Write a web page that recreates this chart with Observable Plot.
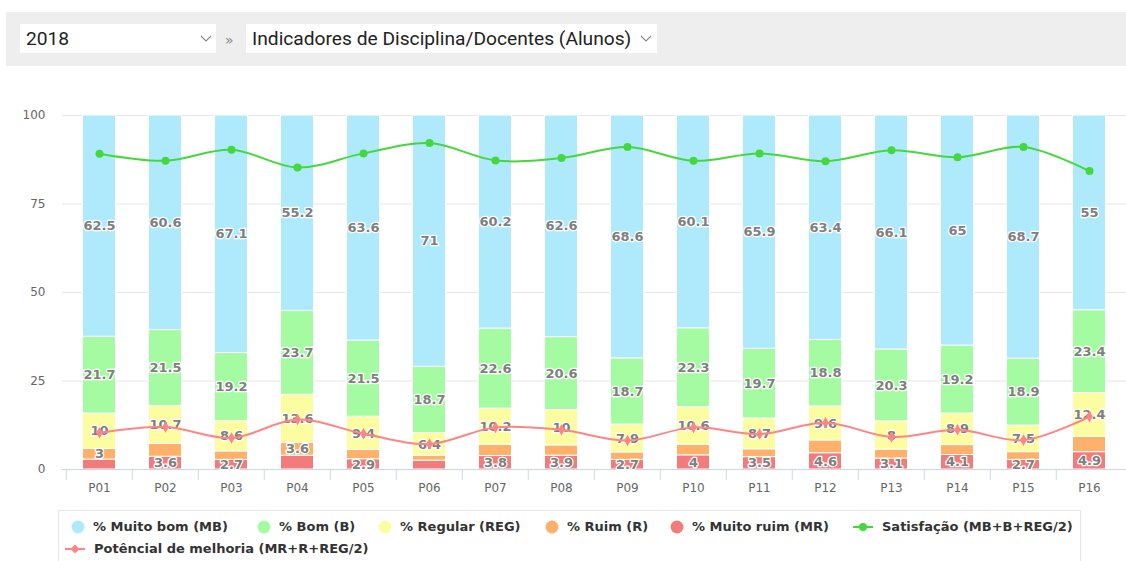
<!DOCTYPE html>
<html>
<head>
<meta charset="utf-8">
<script src="https://cdn.jsdelivr.net/npm/d3@7"></script>
<script src="https://cdn.jsdelivr.net/npm/@observablehq/plot@0.6"></script>
<style>
  html, body { margin: 0; padding: 0; background: #fff; width: 1126px; height: 561px; overflow: hidden; position: relative; }
  #hdr { position: absolute; left: 6px; top: 12px; width: 1120px; height: 54px; background: #eeeeee; }
  .sel { position: absolute; top: 12px; height: 29px; background: #fff; font-family: Roboto, "Liberation Sans", sans-serif; font-size: 19.2px; color: #222; line-height: 30px; padding-left: 6px; box-sizing: border-box; white-space: nowrap; }
  .chev { position: absolute; top: 0; width: 12px; height: 29px; }
  #raq { position: absolute; left: 219px; top: 13px; font-family: "DejaVu Sans", sans-serif; font-size: 14px; color: #888; line-height: 31px; }
  #chart { position: absolute; left: 0; top: 100px; }
  #legend { position: absolute; left: 58px; top: 510px; width: 1023px; height: 60px; border: 1px solid #e6e6e6; box-sizing: border-box; }
  .li { position: absolute; font-family: "DejaVu Sans", sans-serif; font-weight: bold; font-size: 13px; color: #333; white-space: nowrap; line-height: 16px; }
  .sym { position: absolute; }
</style>
</head>
<body>
<div id="hdr">
  <div class="sel" style="left:14px; width:196px;">2018<svg class="chev" style="left:180px" viewBox="0 0 12 29"><path d="M1,12 L6,17 L11,12" fill="none" stroke="#888" stroke-width="1.1"/></svg></div>
  <div id="raq">»</div>
  <div class="sel" style="left:240px; width:411px;"><span id="t2">Indicadores de Disciplina/Docentes (Alunos)</span><svg class="chev" style="left:394px" viewBox="0 0 12 29"><path d="M1,12 L6,17 L11,12" fill="none" stroke="#888" stroke-width="1.1"/></svg></div>
</div>
<div id="chart"></div>
<div id="legend"></div>
<script>
// ---- data ----
const categories = ["P01","P02","P03","P04","P05","P06","P07","P08","P09","P10","P11","P12","P13","P14","P15","P16"];
const muitoBom  = [62.5, 60.6, 67.1, 55.2, 63.6, 71, 60.2, 62.6, 68.6, 60.1, 65.9, 63.4, 66.1, 65, 68.7, 55];
const bom       = [21.7, 21.5, 19.2, 23.7, 21.5, 18.7, 22.6, 20.6, 18.7, 22.3, 19.7, 18.8, 20.3, 19.2, 18.9, 23.4];
const regular   = [10, 10.7, 8.6, 13.6, 9.4, 6.4, 10.2, 10, 7.9, 10.6, 8.7, 9.6, 8, 8.9, 7.5, 12.4];
const ruim      = [3, 3.6, 2.4, 3.6, 2.6, 1.4, 3.2, 2.9, 2.1, 3, 2.2, 3.6, 2.5, 2.8, 2.2, 4.3];
const muitoRuim = [2.8, 3.6, 2.7, 3.9, 2.9, 2.5, 3.8, 3.9, 2.7, 4, 3.5, 4.6, 3.1, 4.1, 2.7, 4.9];
const satisfacao = [89.2, 87.2, 90.3, 85.3, 89.3, 92.2, 87.3, 88.0, 91.1, 87.2, 89.3, 87.1, 90.2, 88.2, 91.1, 84.3];
const potencial  = [10.4, 12.0, 8.9, 14.1, 10.1, 7.2, 11.9, 11.2, 8.2, 11.9, 10.0, 13.2, 9.2, 11.2, 8.3, 14.9];
// which of the two small bottom segments carries a visible label (R, MR or none)
const bottomLabel = ["R","MR","MR","R","MR","none","MR","MR","MR","MR","MR","MR","MR","MR","MR","MR"];

const seriesNames = ["% Muito ruim (MR)", "% Ruim (R)", "% Regular (REG)", "% Bom (B)", "% Muito bom (MB)"];
const seriesKeys = ["MR", "R", "REG", "B", "MB"];
const seriesValues = [muitoRuim, ruim, regular, bom, muitoBom];
const seriesColors = ["#f27c7c", "#ffb06a", "#fcfca0", "#a5fba2", "#aeeafc"];
const lineNames = ["Satisfação (MB+B+REG/2)", "Potêncial de melhoria (MR+R+REG/2)"];
const lineColors = ["#44d83c", "#ff8585"];

const rows = [];
categories.forEach((c, i) => {
  seriesKeys.forEach((k, s) => {
    const v = seriesValues[s][i];
    let show = true;
    if (k === "R" || k === "MR") show = bottomLabel[i] === k;
    rows.push({cat: c, series: seriesNames[s], value: v, label: show ? String(v) : ""});
  });
});
const satRows = categories.map((c, i) => ({cat: c, value: satisfacao[i]}));
const potRows = categories.map((c, i) => ({cat: c, value: potencial[i]}));

const W = 1126, H = 400;
const mL = 62, mR = 0;
const step = (W - mL - mR) / categories.length;

const chart = Plot.plot({
  width: W, height: H,
  marginLeft: mL, marginRight: mR, marginTop: 15, marginBottom: 31,
  style: {fontFamily: "DejaVu Sans, sans-serif", background: "transparent", overflow: "visible"},
  x: {type: "band", domain: categories, padding: 0, label: null},
  y: {domain: [0, 100], label: null},
  color: {domain: seriesNames, range: seriesColors},
  marks: [
    Plot.ruleY([25, 50, 75, 100], {stroke: "#e6e6e6", strokeWidth: 1}),
    Plot.barY(rows, Plot.stackY({x: "cat", y: "value", fill: "series", stroke: "#fff", strokeWidth: 1, insetLeft: 16.5, insetRight: 16.5})),
    Plot.ruleY([0], {stroke: "#ccd6eb", strokeWidth: 1}),
    Plot.ruleX(categories, {x: d => d, y1: 0, y2: 0, insetBottom: -11, dx: -step / 2, stroke: "#ccd6eb", strokeWidth: 1}),
    Plot.text(rows, Plot.stackY({x: "cat", y: "value", text: "label", fill: "#7f7f7f", stroke: "#fff", strokeWidth: 2.5, paintOrder: "stroke", fontSize: 13, fontWeight: "bold"})),
    Plot.line(satRows, {x: "cat", y: "value", stroke: lineColors[0], strokeWidth: 2, curve: "catmull-rom"}),
    Plot.dot(satRows, {x: "cat", y: "value", fill: lineColors[0], r: 4}),
    Plot.line(potRows, {x: "cat", y: "value", stroke: lineColors[1], strokeWidth: 2, curve: "catmull-rom"}),
    Plot.dot(potRows, {x: "cat", y: "value", fill: lineColors[1], r: 3.5, symbol: "diamond"}),
    Plot.axisY({ticks: [0, 25, 50, 75, 100], tickSize: 0, tickPadding: 17, fontSize: 12, fill: "#666", label: null}),
    Plot.axisX({tickSize: 0, tickPadding: 14, fontSize: 12, fill: "#666", label: null})
  ]
});
document.getElementById("chart").appendChild(chart);

// ---- legend ----
const legend = document.getElementById("legend");
const legendItems = [
  {name: seriesNames[4], color: seriesColors[4], type: "circle", x: 19, y: 16},
  {name: seriesNames[3], color: seriesColors[3], type: "circle", x: 205, y: 16},
  {name: seriesNames[2], color: seriesColors[2], type: "circle", x: 326, y: 16},
  {name: seriesNames[1], color: seriesColors[1], type: "circle", x: 493, y: 16},
  {name: seriesNames[0], color: seriesColors[0], type: "circle", x: 618, y: 16},
  {name: lineNames[0], color: lineColors[0], type: "lineDot", x: 804, y: 16},
  {name: lineNames[1], color: lineColors[1], type: "lineDiamond", x: 16, y: 38}
];
legendItems.forEach(it => {
  const sym = document.createElementNS("http://www.w3.org/2000/svg", "svg");
  sym.setAttribute("class", "sym");
  sym.setAttribute("width", 22); sym.setAttribute("height", 14);
  let inner;
  if (it.type === "circle") {
    inner = `<circle cx="11" cy="7" r="6.5" fill="${it.color}"/>`;
  } else if (it.type === "lineDot") {
    inner = `<line x1="1" y1="7" x2="21" y2="7" stroke="${it.color}" stroke-width="2"/><circle cx="11" cy="7" r="4" fill="${it.color}"/>`;
  } else {
    inner = `<line x1="1" y1="7" x2="21" y2="7" stroke="${it.color}" stroke-width="2"/><path d="M11,2.5 L15.5,7 L11,11.5 L6.5,7 Z" fill="${it.color}"/>`;
  }
  sym.style.left = (it.x - 11) + "px";
  sym.innerHTML = inner;
  sym.style.top = (it.y - 7) + "px";
  legend.appendChild(sym);
  const t = document.createElement("div");
  t.className = "li";
  t.textContent = it.name;
  t.style.left = (it.x + (it.type === "circle" ? 15 : 19)) + "px";
  t.style.top = (it.y - 8) + "px";
  legend.appendChild(t);
});
</script>
</body>
</html>
